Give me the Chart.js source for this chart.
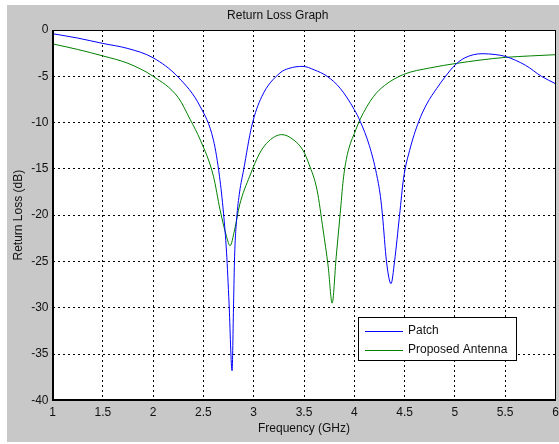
<!DOCTYPE html>
<html>
<head>
<meta charset="utf-8">
<script src="https://cdn.jsdelivr.net/npm/chart.js@4/dist/chart.umd.min.js"></script>
<style>
  html, body { margin: 0; padding: 0; background: #fff; }
  #wrap { width: 559px; height: 444px; position: relative; }
</style>
</head>
<body>
<div id="wrap"><canvas id="c" width="559" height="444"></canvas></div>
<script>
// ---- Data ----
const chartTitle = "Return Loss Graph";
const xTitle = "Frequency (GHz)";
const yTitle = "Return Loss (dB)";
const seriesNames = ["Patch", "Proposed Antenna"];

const xTicks = [1, 1.5, 2, 2.5, 3, 3.5, 4, 4.5, 5, 5.5, 6];
const yTicks = [0, -5, -10, -15, -20, -25, -30, -35, -40];

const patchFreq = [1.0, 1.25, 1.5, 1.75, 2.0, 2.25, 2.47, 2.6, 2.66, 2.7, 2.73, 2.755, 2.785, 2.80, 2.81, 2.83, 2.86, 2.9, 2.98, 3.08, 3.26, 3.35, 3.49, 3.6, 3.73, 3.86, 4.0, 4.06, 4.15, 4.22, 4.26, 4.28, 4.32, 4.365, 4.40, 4.45, 4.49, 4.55, 4.64, 4.72, 4.82, 4.9, 5.0, 5.1, 5.27, 5.4, 5.5, 5.7, 5.86, 6.0];
const patchDb   = [-0.4, -0.87, -1.45, -2.0, -3.0, -5.1, -8.3, -11.9, -15.8, -19.8, -24.0, -29.5, -36.8, -29.5, -24.5, -20.5, -17.5, -15.1, -10.4, -7.2, -4.65, -4.15, -3.93, -4.3, -5.0, -6.3, -8.6, -9.9, -12.5, -15.5, -18.0, -20.0, -25.0, -27.4, -25.0, -20.0, -16.0, -13.0, -9.9, -8.0, -6.3, -5.1, -3.8, -3.0, -2.56, -2.65, -2.85, -3.8, -5.0, -5.8];

const antFreq = [1.0, 1.25, 1.5, 1.75, 2.0, 2.25, 2.37, 2.47, 2.6, 2.665, 2.73, 2.765, 2.81, 2.86, 2.96, 3.06, 3.15, 3.28, 3.4, 3.49, 3.55, 3.63, 3.69, 3.74, 3.78, 3.82, 3.86, 3.89, 3.92, 3.96, 4.0, 4.06, 4.19, 4.3, 4.49, 4.75, 5.02, 5.25, 5.5, 5.75, 6.0];
const antDb   = [-1.5, -2.1, -2.8, -3.6, -5.0, -7.3, -9.7, -11.9, -15.8, -19.4, -22.3, -23.3, -21.6, -18.9, -15.8, -13.3, -12.0, -11.3, -11.9, -13.0, -14.5, -17.3, -21.6, -25.5, -29.5, -24.5, -19.8, -16.2, -14.0, -12.3, -11.2, -9.6, -7.2, -6.0, -4.8, -4.1, -3.6, -3.25, -2.96, -2.8, -2.67];

const seriesColors = ["#0000FF", "#008000"];

function toPoints(xs, ys) { return xs.map((x, i) => ({ x: x, y: ys[i] })); }

const FONT = "'Liberation Sans', Arial, sans-serif";

const bgPlugin = {
  id: 'bg',
  beforeDraw(chart) {
    const ctx = chart.ctx, a = chart.chartArea;
    ctx.save();
    ctx.fillStyle = '#ffffff';
    ctx.fillRect(0, 0, chart.width, chart.height);
    ctx.fillStyle = '#C8C8C8';
    ctx.fillRect(7, 5, chart.width - 7, 437);
    ctx.fillStyle = '#ffffff';
    ctx.fillRect(a.left, a.top, a.right - a.left, a.bottom - a.top);
    ctx.restore();
  },
  afterDatasetsDraw(chart) {
    const ctx = chart.ctx, a = chart.chartArea;
    ctx.save();
    ctx.strokeStyle = '#000';
    ctx.lineWidth = 1;
    ctx.strokeRect(Math.round(a.left) + 0.5, Math.round(a.top) + 0.5,
                   Math.round(a.right - a.left) - 1, Math.round(a.bottom - a.top) - 1);
    // legend box
    const lx = 358, ly = 317, lw = 158, lh = 43;
    ctx.fillStyle = '#fff';
    ctx.fillRect(lx, ly, lw, lh);
    ctx.strokeRect(lx + 0.5, ly + 0.5, lw, lh);
    ctx.font = '12px ' + FONT;
    ctx.textBaseline = 'middle';
    ctx.textAlign = 'left';
    chart.data.datasets.forEach((ds, i) => {
      const yy = ly + 13.5 + i * 19.5;
      ctx.strokeStyle = ds.borderColor;
      ctx.beginPath();
      ctx.moveTo(365, Math.round(yy) + 0.5);
      ctx.lineTo(403, Math.round(yy) + 0.5);
      ctx.stroke();
      ctx.fillStyle = '#111';
      ctx.fillText(ds.label, 408, yy);
    });
    ctx.restore();
  }
};

new Chart(document.getElementById('c'), {
  type: 'line',
  data: {
    datasets: [
      { label: seriesNames[0], data: toPoints(patchFreq, patchDb), borderColor: seriesColors[0],
        borderWidth: 1, pointRadius: 0, cubicInterpolationMode: 'monotone', fill: false },
      { label: seriesNames[1], data: toPoints(antFreq, antDb), borderColor: seriesColors[1],
        borderWidth: 1, pointRadius: 0, cubicInterpolationMode: 'monotone', fill: false }
    ]
  },
  options: {
    responsive: false,
    animation: false,
    devicePixelRatio: 1,
    layout: { padding: { left: 0, right: 3.5, top: 0, bottom: 0 } },
    plugins: {
      legend: { display: false },
      tooltip: { enabled: false },
      title: {
        display: true, text: chartTitle, color: '#111',
        font: { family: FONT, size: 12, weight: 'normal', lineHeight: 1.2 },
        padding: { top: 8, bottom: 7.6 }
      }
    },
    scales: {
      x: {
        type: 'linear', min: 1, max: 6,
        afterBuildTicks: s => { s.ticks = xTicks.map(v => ({ value: v })); },
        afterFit: s => { s.height = 43.7; s.paddingLeft = 0; s.paddingRight = 0; },
        ticks: { color: '#111', font: { family: FONT, size: 12 }, padding: 5, maxRotation: 0,
                 callback: v => String(v) },
        grid: { color: '#000', lineWidth: 1, drawTicks: false },
        border: { display: true, color: '#000', dash: [2, 3] },
        title: { display: true, text: xTitle, color: '#111',
                 font: { family: FONT, size: 12 }, padding: { top: 0, bottom: 8 } }
      },
      y: {
        type: 'linear', min: -40, max: 0,
        afterBuildTicks: s => { s.ticks = yTicks.map(v => ({ value: v })); },
        afterFit: s => { s.width = 52.5; s.paddingTop = 0; s.paddingBottom = 0; },
        ticks: { color: '#111', font: { family: FONT, size: 12 }, padding: 4,
                 callback: v => String(v) },
        grid: { color: '#000', lineWidth: 1, drawTicks: false },
        border: { display: true, color: '#000', dash: [2, 3] },
        title: { display: true, text: yTitle, color: '#111',
                 font: { family: FONT, size: 12 }, padding: { top: 11, bottom: 0 } }
      }
    }
  },
  plugins: [bgPlugin]
});
</script>
</body>
</html>
